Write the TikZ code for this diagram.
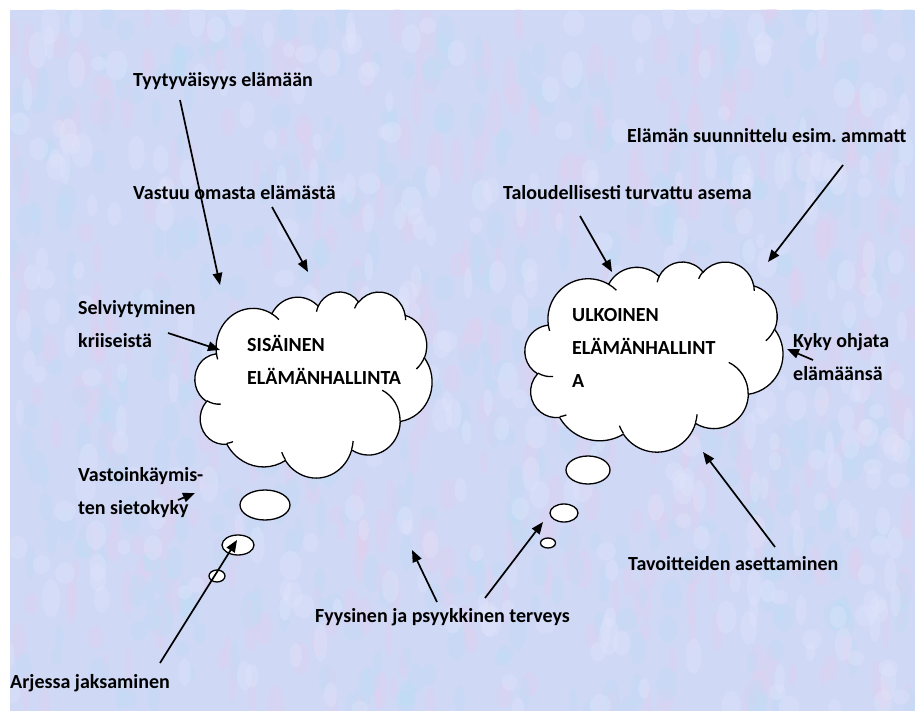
\documentclass[tikz,border=0pt]{standalone}
\usepackage{fontspec}
\setmainfont{Carlito}
\usetikzlibrary{arrows.meta}

% Cloud outline in a 432 x 432 unit box. Each arc: x radius / y radius /
% start angle / sweep, the angles taken along the ray from the arc centre.
\newcommand\cloudmain{}
\newcommand\cloudinner{}
\newcommand\buildcloud{%
  \gdef\cloudmain{}%
  \foreach \cRa/\cRb/\cSt/\cSw in {
      67.53/91.90/-190.487/123.781, 53.33/72.67/-144.102/89.945,
      43.65/59.45/-145.808/99.723,  48.57/65.95/-130.986/117.242,
      53.33/72.73/-78.709/109.027,  67.75/92.20/-46.267/130.269,
      57.85/78.67/0.625/114.033,    67.52/92.15/22.452/115.173,
      77.20/105.43/66.243/75.711,   43.60/59.18/-274.942/146.736,
      43.45/59.45/-246.829/152.519}{%
    \pgfmathsetmacro\cldA{atan2(\cRa*sin(\cSt),\cRb*cos(\cSt))}%
    \pgfmathsetmacro\cldB{atan2(\cRa*sin(\cSt+\cSw),\cRb*cos(\cSt+\cSw))}%
    \pgfmathsetmacro\cldD{mod(\cldB-\cldA+720,360)}%
    \xdef\cloudmain{\cloudmain arc[x radius=\cRa,y radius=\cRb,start angle=\cldA,delta angle=\cldD]}%
  }%
  \gdef\cloudinner{}%
  \foreach \cX/\cY/\cRa/\cRb/\cSt/\cSw in {
      46.93/261.77/43.45/59.45/86.742/26.430,
      69.28/348.99/43.60/59.18/73.610/11.447,
      164.78/390.90/67.52/92.15/137.624/14.081,
      288.27/347.51/67.52/92.15/6.453/15.998,
      341.29/229.54/57.85/78.67/-70.292/70.917,
      417.98/153.54/53.33/72.73/30.318/27.752,
      383.24/54.26/48.57/65.95/-13.744/14.859,
      290.78/39.52/48.57/65.95/-149.181/18.195,
      221.41/47.20/43.65/59.45/-163.494/17.686,
      140.00/51.92/67.53/91.90/-66.707/12.319,
      41.27/157.89/67.53/91.90/157.654/11.858}{%
    \pgfmathsetmacro\cldA{atan2(\cRa*sin(\cSt),\cRb*cos(\cSt))}%
    \pgfmathsetmacro\cldB{atan2(\cRa*sin(\cSt+\cSw),\cRb*cos(\cSt+\cSw))}%
    \pgfmathsetmacro\cldD{mod(\cldB-\cldA+720,360)}%
    \xdef\cloudinner{\cloudinner (\cX,\cY) arc[x radius=\cRa,y radius=\cRb,start angle=\cldA,delta angle=\cldD]}%
  }}

\definecolor{paper}{RGB}{207,216,245}
\definecolor{paperpink}{RGB}{228,206,236}
\definecolor{papercyan}{RGB}{188,222,246}
\definecolor{paperpale}{RGB}{224,228,250}

\tikzset{
  lbl/.style={font=\bfseries\fontsize{20}{33}\selectfont, inner sep=0pt,
              anchor=base west, align=left, text=black},
  arr/.style={-{Triangle[length=12pt,width=9.5pt]}, line width=1.7pt, black},
  cloudline/.style={line width=1.3pt, draw=black, fill=white},
  bubble/.style={line width=1.3pt, draw=black, fill=white}
}

\begin{document}
\begin{tikzpicture}[x=1pt, y=-1pt]
\buildcloud
\useasboundingbox (0,0) rectangle (915,711);
\fill[white] (0,0) rectangle (915,711);
\fill[paper] (10,10) rectangle (915,711);

% soft mottled paper texture
\begin{scope}
  \clip (10,10) rectangle (915,711);
  \pgfmathsetseed{4711}
  \foreach \k in {1,...,420}{
    \pgfmathsetmacro\tx{10+905*rnd}
    \pgfmathsetmacro\ty{10+701*rnd}
    \pgfmathsetmacro\tw{3+6*rnd}
    \pgfmathsetmacro\th{9+16*rnd}
    \fill[paperpink, opacity=0.32] (\tx,\ty) ellipse [x radius=\tw, y radius=\th];
  }
  \foreach \k in {1,...,420}{
    \pgfmathsetmacro\tx{10+905*rnd}
    \pgfmathsetmacro\ty{10+701*rnd}
    \pgfmathsetmacro\tw{4+7*rnd}
    \pgfmathsetmacro\th{7+14*rnd}
    \fill[papercyan, opacity=0.3] (\tx,\ty) ellipse [x radius=\tw, y radius=\th];
  }
  \foreach \k in {1,...,360}{
    \pgfmathsetmacro\tx{10+905*rnd}
    \pgfmathsetmacro\ty{10+701*rnd}
    \pgfmathsetmacro\tw{4+7*rnd}
    \pgfmathsetmacro\th{7+12*rnd}
    \fill[paperpale, opacity=0.4] (\tx,\ty) ellipse [x radius=\tw, y radius=\th];
  }
\end{scope}

% inner cloud
\begin{scope}[shift={(195,291.4)}, x=0.5486pt, y=-0.4306pt]
  \filldraw[cloudline] (39,143.7) \cloudmain -- cycle;
  \draw[cloudline, fill=none] (0,0) \cloudinner;
\end{scope}
\draw[bubble] (265,505) ellipse [x radius=25, y radius=15];
\draw[bubble] (238,545) ellipse [x radius=16, y radius=10];
\draw[bubble] (217,576) ellipse [x radius=8, y radius=6];

% outer cloud
\begin{scope}[shift={(525,261.4)}, x=0.597pt, y=-0.44pt]
  \filldraw[cloudline] (39,143.7) \cloudmain -- cycle;
  \draw[cloudline, fill=none] (0,0) \cloudinner;
\end{scope}
\draw[bubble] (588,470) ellipse [x radius=22, y radius=14];
\draw[bubble] (564,513) ellipse [x radius=14, y radius=9];
\draw[bubble] (548,543) ellipse [x radius=7.5, y radius=5];

% labels (anchored at the baseline of their last line)
\node[lbl] (tyy) at (133,87)  {Tyytyväisyys elämään};
\node[lbl] (vas) at (133,200) {Vastuu omasta elämästä};
\node[lbl] (ela) at (627,143) {Elämän suunnittelu esim.\ ammatt};
\node[lbl] (tal) at (503,200) {Taloudellisesti turvattu asema};
\node[lbl] (sel) at (78,347)  {Selviytyminen\\kriiseistä};
\node[lbl] (sis) at (247,384) {SISÄINEN\\ELÄMÄNHALLINTA};
\node[lbl] (ulk) at (572,387) {ULKOINEN\\ELÄMÄNHALLINT\\A};
\node[lbl] (kyk) at (793,380) {Kyky ohjata\\elämäänsä};
\node[lbl] (vst) at (78,514)  {Vastoinkäymis-\\ten sietokyky};
\node[lbl] (tav) at (628,570) {Tavoitteiden asettaminen};
\node[lbl] (fyy) at (315,622) {Fyysinen ja psyykkinen terveys};
\node[lbl] (arj) at (10,688)  {Arjessa jaksaminen};

% arrow ends
\coordinate (tyyS) at (180,100); \coordinate (tyyE) at (220,285);
\coordinate (vasS) at (272,207); \coordinate (vasE) at (308,272);
\coordinate (selS) at (168,333); \coordinate (selE) at (220,350);
\coordinate (talS) at (580,216); \coordinate (talE) at (612,272);
\coordinate (elaS) at (843,165); \coordinate (elaE) at (768,262);
\coordinate (kykS) at (813,360); \coordinate (kykE) at (787,349);
\coordinate (tavS) at (775,547); \coordinate (tavE) at (703,452);
\coordinate (vstS) at (178,500); \coordinate (vstE) at (195,493);
\coordinate (arjS) at (160,663); \coordinate (arjE) at (237,540);
\coordinate (fyaS) at (437,602); \coordinate (fyaE) at (412,550);
\coordinate (fybS) at (485,598); \coordinate (fybE) at (543,522);

\foreach \a in {tyy,vas,sel,tal,ela,kyk,tav,vst,arj,fya,fyb}
  \draw[arr] (\a S) -- (\a E);
\end{tikzpicture}
\end{document}
